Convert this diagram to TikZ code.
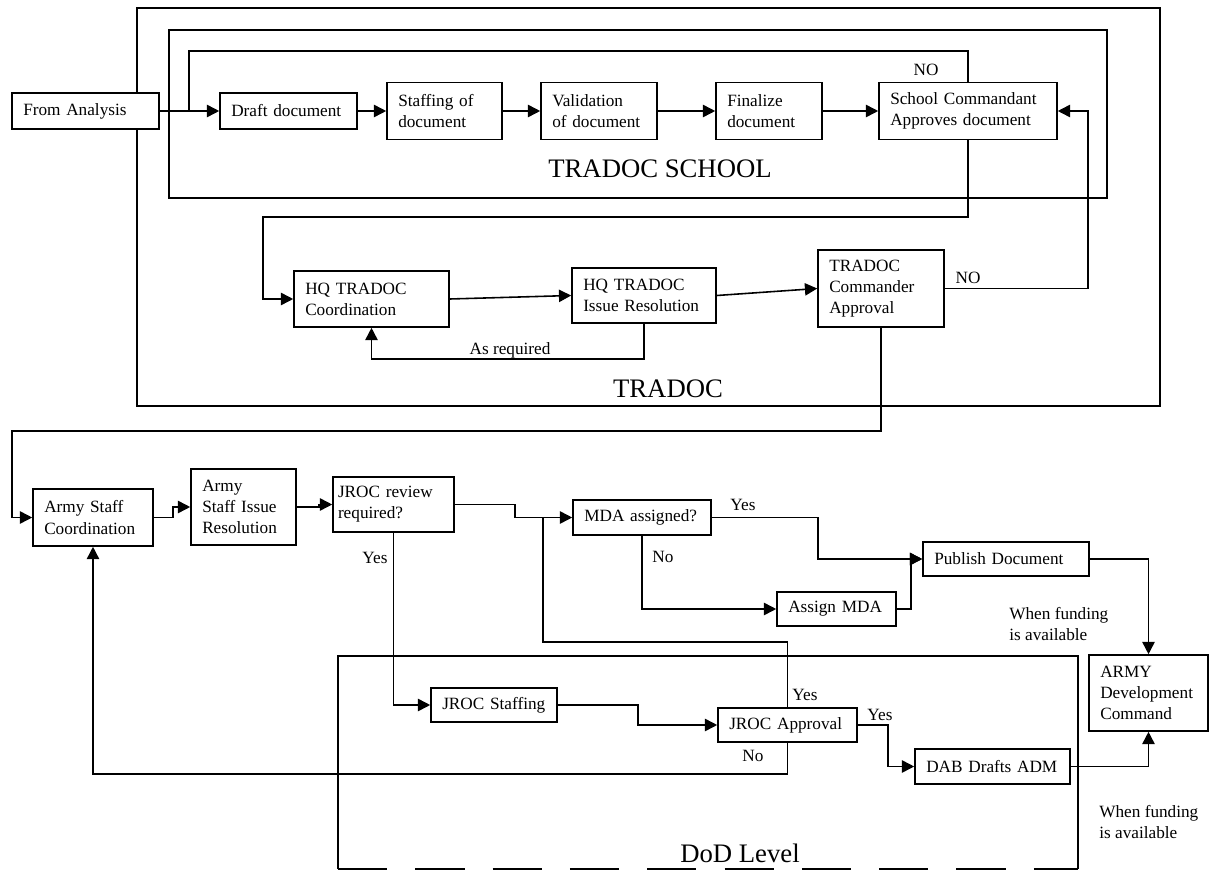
\documentclass[tikz,border=0pt]{standalone}
\usepackage{fontspec}
\setmainfont{Liberation Serif}
\usepackage{tikz}
\usetikzlibrary{arrows.meta}
\newcommand{\regionfont}{\fontsize{15.2}{18}\selectfont}

\begin{document}
\begin{tikzpicture}[x=0.02cm, y=-0.02cm,
    every node/.style={font=\fontsize{9.8}{12}\selectfont},
    box/.style={draw, fill=white, line width=0.9pt, align=left,
                inner xsep=0.225cm, inner ysep=2pt},
    region/.style={draw, line width=0.9pt},
    regionlbl/.style={font=\regionfont, anchor=base},
    lbl/.style={anchor=base, inner sep=0pt},
    fund/.style={align=left, anchor=west, inner sep=0pt},
    conn/.style={line width=0.9pt},
    arr/.style={conn, -{Triangle[length=7pt, width=7pt]}}]
  \useasboundingbox (0,0) rectangle (1215,872);
  \draw[region] (137,8) rectangle (1160,406);
  \draw[region] (169,30) rectangle (1107,198);
  \draw[region] (338,869) -- (338,656) -- (1078,656) -- (1078,869);
  \draw[region, dash pattern=on 28pt off 16pt] (338,869) -- (1078,869);
  \node[regionlbl] (lschool) at (660,177) {TRADOC SCHOOL};
  \node[regionlbl] (ltradoc) at (668,397) {TRADOC};
  \node[regionlbl] (ldod)    at (740,862) {DoD Level};

  \node[box, text width=2.49cm, minimum height=0.72cm] (fromana) at (85.5,111) {From Analysis};
  \node[box, text width=2.29cm, minimum height=0.72cm] (draft)   at (288.5,111) {Draft document};
  \node[box, text width=1.85cm, minimum height=1.14cm] (staff)   at (444.5,111) {Staffing of\\document};
  \node[box, text width=1.87cm, minimum height=1.14cm] (valid)   at (599,111) {Validation\\of document};
  \node[box, text width=1.67cm, minimum height=1.14cm] (final)   at (769,111) {Finalize\\document};
  \node[box, text width=3.11cm, minimum height=1.14cm] (schcmd)  at (968,111) {School Commandant\\Approves document};
  \node[box, text width=2.65cm, minimum height=1.12cm] (hqcoord) at (371.5,299) {HQ TRADOC\\Coordination};
  \node[box, text width=2.43cm, minimum height=1.10cm] (hqissue) at (644,295.5) {HQ TRADOC\\Issue Resolution};
  \node[box, text width=2.07cm, minimum height=1.54cm] (tcmd)    at (881,288.5) {TRADOC\\Commander\\Approval};
  \node[box, text width=1.95cm, minimum height=1.14cm] (ascoord) at (93,517.5) {Army Staff\\Coordination};
  \node[box, text width=1.65cm, minimum height=1.52cm] (asissue) at (243.5,507) {Army\\Staff Issue\\Resolution};
  \node[box, text width=2.22cm, inner xsep=0.1cm, minimum height=1.10cm] (jrocrev) at (393.5,504.5) {JROC review\\required?};
  \node[box, text width=2.31cm, minimum height=0.70cm] (mda)     at (642,517.5) {MDA assigned?};
  \node[box, text width=1.93cm, minimum height=0.68cm] (assign)  at (836.5,609) {Assign MDA};
  \node[box, text width=2.87cm, minimum height=0.68cm] (publish) at (1006,559) {Publish Document};
  \node[box, text width=1.93cm, minimum height=1.52cm] (armydev) at (1148.5,693) {ARMY\\Development\\Command};
  \node[box, text width=2.07cm, minimum height=0.68cm] (jrocstaff) at (494,705) {JROC Staffing};
  \node[box, text width=2.33cm, minimum height=0.68cm] (jrocappr)  at (787.5,725) {JROC Approval};
  \node[box, text width=2.65cm, minimum height=0.70cm] (dab)     at (992.5,766.5) {DAB Drafts ADM};

  \coordinate (nojoin) at (189,111);
  \coordinate (noturn) at (189,51);
  \coordinate (schdrop) at (263,217);
  \coordinate (noright) at (1088,111);
  \coordinate (armyturn) at (12,431);
  \coordinate (yesjoin) at (543,517.5);

  \draw[arr] (fromana) -- (draft);
  \draw[arr] (draft) -- (staff);
  \draw[arr] (staff) -- (valid);
  \draw[arr] (valid) -- (final);
  \draw[arr] (final) -- (schcmd);
  \draw[conn] (schcmd.north) |- (noturn) -- (nojoin);
  \node[lbl] (lno1) at (926,75) {NO};

  \draw[arr] (schcmd.south) |- (schdrop) |- (hqcoord.west);
  \draw[arr] (hqcoord.east) -- (hqissue.west);
  \draw[arr] (hqissue.east) -- (tcmd.west);
  \draw[arr] (hqissue.south) -- ++(0,35) -| (hqcoord.south);
  \node[lbl] (lasreq) at (510,354) {As required};
  \draw[arr] (tcmd.east) -| (noright) -- (schcmd.east);
  \node[lbl] (lno2) at (968,283) {NO};

  \draw[arr] (tcmd.south) |- (armyturn) |- (ascoord.west);
  \draw[arr] (ascoord.east) -- ++(19,0) |- (asissue.west);
  \draw[arr] (asissue.east) -- ++(22,0) |- (jrocrev.west);
  \draw[arr] (jrocrev.east) -- ++(60,0) |- (mda.west);
  \draw[conn] (jrocappr.north) -- ++(0,-65) -| (yesjoin);
  \node[lbl] (lyes3) at (805,700) {Yes};

  \draw[arr] (mda.east) -- ++(106,0) |- (publish.west);
  \node[lbl] (lyes1) at (743,510) {Yes};
  \draw[arr] (mda.south) |- (assign.west);
  \node[lbl] (lno3) at (663,562) {No};
  \draw[arr] (assign.east) -- ++(14,0) |- (publish.west);
  \draw[arr] (publish.east) -| (armydev.north);
  \node[fund] (lfund1) at (1009,624) {When funding\\is available};

  \draw[arr] (jrocrev.south) |- (jrocstaff.west);
  \node[lbl] (lyes2) at (375,563) {Yes};
  \draw[arr] (jrocstaff.east) -- ++(80,0) |- (jrocappr.west);
  \draw[arr] (jrocappr.east) -- ++(30,0) |- (dab.west);
  \node[lbl] (lyes4) at (880,720) {Yes};
  \draw[arr] (jrocappr.south) -- ++(0,31) -| (ascoord.south);
  \node[lbl] (lno4) at (753,761) {No};
  \draw[arr] (dab.east) -| (armydev.south);
  \node[fund] (lfund2) at (1099,822) {When funding\\is available};
\end{tikzpicture}
\end{document}
